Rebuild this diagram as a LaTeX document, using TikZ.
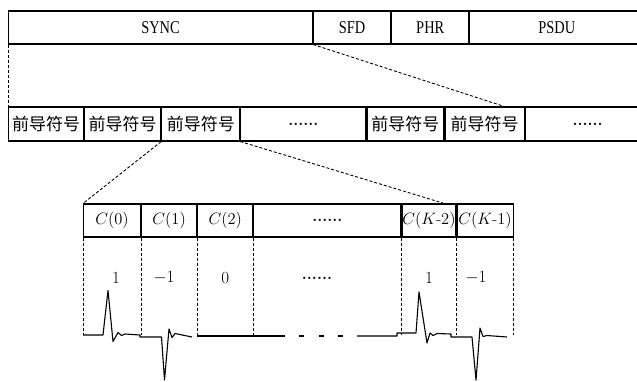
\documentclass[tikz,border=0pt]{standalone}
\usepackage{fix-cm}
\usepackage{fontspec}
\newfontfamily\cjk{Noto Sans CJK SC}
\newfontfamily\condfont[FakeStretch=0.8]{Liberation Serif}

\begin{document}
\begin{tikzpicture}[
  x=1pt, y=-1pt,
  cell/.style={
    draw, line width=1.1pt, anchor=west,
    inner sep=0pt, minimum height=33pt
  },
  head/.style={cell, font=\condfont\fontsize{18}{18}\selectfont},
  sym/.style={cell, minimum height=34pt, font=\cjk\fontsize{17}{17}\selectfont},
  gap/.style={cell, font=\bfseries\fontsize{16}{16}\selectfont},
  chip/.style={cell, font=\fontsize{16.5}{16.5}\selectfont},
  val/.style={inner sep=0pt, font=\fontsize{17}{17}\selectfont},
  zoom/.style={dash pattern=on 3pt off 2pt, line width=0.9pt},
  wave/.style={line width=1.1pt, line join=round},
]
\useasboundingbox (0,0) rectangle (637,381);

% frame fields
\node[head, minimum width=304pt] (sync) at (8,27.5)   {SYNC};
\node[head, minimum width=77pt]  (sfd)  at (sync.east) {SFD};
\node[head, minimum width=77pt]  (phr)  at (sfd.east)  {PHR};
\node[head, minimum width=174pt] (psdu) at (phr.east)  {PSDU};

% preamble symbols
\node[sym, minimum width=75pt]  (p1)    at (8,124)     {前导符号};
\node[sym, minimum width=76pt]  (p2)    at (p1.east)   {前导符号};
\node[sym, minimum width=78pt]  (p3)    at (p2.east)   {前导符号};
\node[gap, minimum width=125pt, minimum height=34pt] (pdots) at (p3.east) {......};
\node[sym, minimum width=77pt]  (p4)    at (pdots.east) {前导符号};
\node[sym, minimum width=79pt]  (p5)    at (p4.east)   {前导符号};
\node[gap, minimum width=125pt, minimum height=34pt] (pend) at (p5.east) {......};

% chips of one symbol
\node[chip, minimum width=57pt]  (c0)    at (83,220.5)  {$C(0)$};
\node[chip, minimum width=55pt]  (c1)    at (c0.east)   {$C(1)$};
\node[chip, minimum width=55pt]  (c2)    at (c1.east)   {$C(2)$};
\node[gap,  minimum width=147pt] (cdots) at (c2.east)   {......};
\node[chip, minimum width=54pt]  (ck2)   at (cdots.east) {$C(K\mbox{-}2)$};
\node[chip, minimum width=56pt]  (ck1)   at (ck2.east)  {$C(K\mbox{-}1)$};

% chip values
\coordinate (vrow) at (0,278);
\node[val] (v0)    at (116,278)       {$1$};
\node[val] (v1)    at (164,278)       {$-1$};
\node[val] (v2)    at (c2 |- vrow)    {$0$};
\node[val, font=\bfseries\fontsize{16}{16}\selectfont] (vdots) at (317,278) {......};
\node[val] (vk2)   at (ck2 |- vrow)   {$1$};
\node[val] (vk1)   at (476,278)       {$-1$};

% zoom lines
\coordinate (hitR) at (506,107);
\coordinate (hitC) at (446,204);
\draw[zoom] (sync.south west) -- (p1.north west);
\draw[zoom] (sync.south east) -- (hitR);
\draw[zoom] (p3.south west) -- (c0.north west);
\draw[zoom] (p3.south east) -- (hitC);

% chip borders
\coordinate (base) at (0,335);
\foreach \n in {c0,c1,c2,cdots,ck2,ck1}
  \draw[zoom] (\n.south west) -- (\n.south west |- base);
\draw[zoom] (ck1.south east) -- (ck1.south east |- base);

% pulse train
\draw[wave] (83,335) -- (103,335) -- (108,290.5) -- (113,341.5) -- (118,332.5)
  -- (121.5,335.5) -- (125,334) -- (140,335) -- (140,337) -- (161.5,337)
  -- (164.5,380) -- (169,329) -- (172,337.5) -- (175,333.5) -- (192,337);
\draw[wave] (197,336) -- (285,336);
\foreach \x in {299,319,338}
  \draw[wave] (\x,336) -- ++(5,0);
\draw[wave] (357,336) -- (397,336) -- (397,333) -- (416,333) -- (419,292)
  -- (427,343) -- (430,333) -- (433,335.5) -- (437,333.5) -- (451,334)
  -- (451,337) -- (472,337) -- (476,380) -- (480,328) -- (483,336.5)
  -- (487,335.5) -- (507,337);

\end{tikzpicture}
\end{document}
